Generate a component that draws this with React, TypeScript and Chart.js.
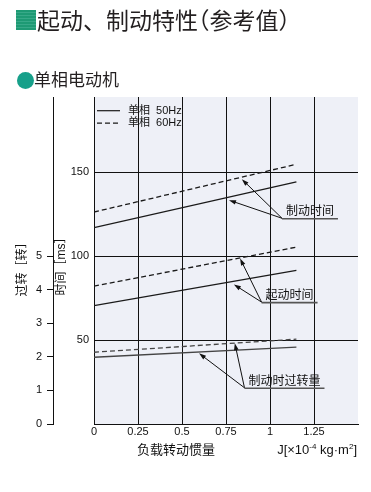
import React, { useEffect, useRef } from 'react';
import { Chart, registerables } from 'chart.js';

Chart.register(...registerables);

// ---------- data ----------
const inertia = [0, 1.15]; // J [x10^-4 kg·m²]
const brakeTime50 = [117.1, 144.4]; // ms
const brakeTime60 = [126.4, 154.9]; // ms
const startTime50 = [70.6, 91.6]; // ms
const startTime60 = [82.2, 105.5]; // ms
const overrun50 = [1.99, 2.29]; // turns
const overrun60 = [2.14, 2.53]; // turns

const xTicks = [0, 0.25, 0.5, 0.75, 1, 1.25];
const timeTicks = [50, 100, 150];
const turnTicks = [0, 1, 2, 3, 4, 5];

const mainTitleParts = ['起动、制动特性', '（', '参考值', '）'];
const subTitle = '单相电动机';
const legendLabels = ['单相  50Hz', '单相  60Hz'];
const timeTitle = '时间［ms］';
const turnTitle = '过转［转］';
const xTitle = '负载转动惯量';
const annotationLabels = ['制动时间', '起动时间', '制动时过转量'];

const FAM = "'Liberation Sans', 'Noto Sans CJK SC', sans-serif";
const CJK = "'Noto Sans CJK SC', sans-serif";
const INK = '#111';
const LINE = '#1a1a1a';
const DASH = [5, 3];

const pts = (ys: number[]) => inertia.map((x, i) => ({ x, y: ys[i] }));

const decorPlugin = {
  id: 'decor',
  beforeDraw(chart: any) {
    const { ctx, chartArea: a } = chart;
    ctx.save();
    ctx.fillStyle = '#eef0f7';
    ctx.fillRect(a.left, a.top, a.right - a.left, a.bottom - a.top);
    ctx.restore();
  },
  afterDraw(chart: any) {
    const { ctx, chartArea: a, scales } = chart;
    const xs = scales.x;
    ctx.save();

    // legend
    const ds = chart.data.datasets;
    [0, 1].forEach((i) => {
      const y = a.top + 13.7 + i * 12.5;
      ctx.strokeStyle = LINE;
      ctx.lineWidth = 1.2;
      ctx.setLineDash(ds[i].borderDash || []);
      ctx.beginPath();
      ctx.moveTo(a.left + 3, y);
      ctx.lineTo(a.left + 26, y);
      ctx.stroke();
      ctx.setLineDash([]);
      ctx.fillStyle = INK;
      ctx.font = `11px ${FAM}`;
      ctx.textAlign = 'left';
      ctx.textBaseline = 'middle';
      ctx.fillText(legendLabels[i], a.left + 34, y);
    });

    // annotations
    const notes = [
      { label: annotationLabels[0], axis: 'y', anchor: [1.068, 122.7], tips: [[0.84, 146.0], [0.767, 133.5]] },
      { label: annotationLabels[1], axis: 'y', anchor: [0.952, 72.7], tips: [[0.83, 98.7], [0.795, 83.2]] },
      { label: annotationLabels[2], axis: 'y2', anchor: [0.855, 1.08], tips: [[0.8, 2.41], [0.597, 2.107]] },
    ];
    notes.forEach((n) => {
      const ys = scales[n.axis];
      const ax = xs.getPixelForValue(n.anchor[0]);
      const ay = ys.getPixelForValue(n.anchor[1]);
      ctx.font = `12px ${CJK}`;
      const w = ctx.measureText(n.label).width;
      ctx.fillStyle = INK;
      ctx.textAlign = 'left';
      ctx.textBaseline = 'middle';
      ctx.fillText(n.label, ax + 4, ay - 7.5);
      ctx.strokeStyle = '#555';
      ctx.lineWidth = 1.6;
      ctx.beginPath();
      ctx.moveTo(ax, ay + 0.5);
      ctx.lineTo(ax + w + 8, ay + 0.5);
      ctx.stroke();
      n.tips.forEach((t) => {
        const tx = xs.getPixelForValue(t[0]);
        const ty = ys.getPixelForValue(t[1]);
        const ang = Math.atan2(ty - ay, tx - ax);
        ctx.strokeStyle = INK;
        ctx.lineWidth = 1;
        ctx.beginPath();
        ctx.moveTo(ax, ay);
        ctx.lineTo(tx - Math.cos(ang) * 4, ty - Math.sin(ang) * 4);
        ctx.stroke();
        const L = 7, H = 2.3;
        ctx.fillStyle = INK;
        ctx.beginPath();
        ctx.moveTo(tx, ty);
        ctx.lineTo(tx - L * Math.cos(ang) + H * Math.sin(ang), ty - L * Math.sin(ang) - H * Math.cos(ang));
        ctx.lineTo(tx - L * Math.cos(ang) - H * Math.sin(ang), ty - L * Math.sin(ang) + H * Math.cos(ang));
        ctx.closePath();
        ctx.fill();
      });
    });

    // bottom titles
    ctx.fillStyle = INK;
    ctx.font = `13px ${CJK}`;
    ctx.textAlign = 'center';
    ctx.textBaseline = 'middle';
    ctx.fillText(xTitle, xs.getPixelForValue(0.466), a.bottom + 25);

    const base = a.bottom + 30;
    const pieces = [
      { t: 'J[×10', s: 13, dy: 0 },
      { t: '-4', s: 8, dy: -5 },
      { t: ' kg·m', s: 13, dy: 0 },
      { t: '2', s: 8, dy: -5 },
      { t: ']', s: 13, dy: 0 },
    ];
    ctx.textAlign = 'left';
    ctx.textBaseline = 'alphabetic';
    let total = 0;
    pieces.forEach((p) => {
      ctx.font = `${p.s}px ${FAM}`;
      total += ctx.measureText(p.t).width;
    });
    let x = a.right - 1 - total;
    pieces.forEach((p) => {
      ctx.font = `${p.s}px ${FAM}`;
      ctx.fillText(p.t, x, base + p.dy);
      x += ctx.measureText(p.t).width;
    });
    ctx.restore();
  },
};

export default function App() {
  const ref = useRef<HTMLCanvasElement>(null);

  useEffect(() => {
    const tickFont = { family: FAM, size: 11 };
    const titleFont = { family: FAM, size: 12 };
    const chart = new Chart(ref.current as HTMLCanvasElement, {
      type: 'line',
      data: {
        datasets: [
          { label: '制动时间 50Hz', data: pts(brakeTime50), yAxisID: 'y', borderColor: LINE, borderWidth: 1.3 },
          { label: '制动时间 60Hz', data: pts(brakeTime60), yAxisID: 'y', borderColor: LINE, borderWidth: 1.3, borderDash: DASH },
          { label: '起动时间 50Hz', data: pts(startTime50), yAxisID: 'y', borderColor: LINE, borderWidth: 1.3 },
          { label: '起动时间 60Hz', data: pts(startTime60), yAxisID: 'y', borderColor: LINE, borderWidth: 1.3, borderDash: DASH },
          { label: '过转量 50Hz', data: pts(overrun50), yAxisID: 'y2', borderColor: '#444', borderWidth: 1.3 },
          { label: '过转量 60Hz', data: pts(overrun60), yAxisID: 'y2', borderColor: '#444', borderWidth: 1.3, borderDash: DASH },
        ],
      },
      options: {
        animation: false,
        responsive: false,
        devicePixelRatio: 1,
        layout: { padding: { left: 12, top: 97, right: 13, bottom: 0 } },
        elements: { point: { radius: 0 }, line: { tension: 0 } },
        plugins: { legend: { display: false }, tooltip: { enabled: false } },
        scales: {
          x: {
            type: 'linear',
            min: 0,
            max: 1.5,
            afterBuildTicks: (s: any) => { s.ticks = xTicks.map((v) => ({ value: v })); },
            afterFit: (s: any) => { s.height = 68; },
            grid: { color: '#111', lineWidth: 1, drawTicks: false },
            border: { display: true, color: '#111', width: 1 },
            ticks: { padding: 1, color: INK, font: tickFont, callback: (v: any) => String(v), maxRotation: 0 },
          },
          y: {
            type: 'linear',
            position: 'left',
            weight: 0,
            min: 0,
            max: 195,
            afterBuildTicks: (s: any) => { s.ticks = timeTicks.map((v) => ({ value: v })); },
            afterFit: (s: any) => { s.width = 41; },
            grid: { color: '#111', lineWidth: 1, drawTicks: false },
            border: { display: true, color: '#111', width: 1 },
            ticks: { padding: 5, color: INK, font: tickFont, callback: (v: any) => String(v) },
            title: { display: true, text: timeTitle + '\u2002', color: INK, font: titleFont, padding: { top: 1, bottom: 0 } },
          },
          y2: {
            type: 'linear',
            position: 'left',
            weight: 1,
            min: 0,
            max: 9.75,
            afterBuildTicks: (s: any) => { s.ticks = turnTicks.map((v) => ({ value: v })); },
            afterFit: (s: any) => { s.width = 41; },
            grid: { drawOnChartArea: false, drawTicks: true, tickLength: 6, color: '#111', lineWidth: 1 },
            border: { display: true, color: '#111', width: 1 },
            ticks: { padding: 5, color: INK, font: tickFont, callback: (v: any) => String(v) },
            title: { display: true, text: turnTitle + '\u3000\u2002', color: INK, font: titleFont, padding: { top: 3, bottom: 0 } },
          },
        },
      } as any,
      plugins: [decorPlugin],
    });
    return () => chart.destroy();
  }, []);

  const halt = { fontFeatureSettings: "'halt'" } as React.CSSProperties;

  return (
    <div style={{ position: 'absolute', left: 0, top: 0, width: 371, height: 492, background: '#fff', overflow: 'hidden' }}>
      <canvas ref={ref} width={371} height={492} style={{ position: 'absolute', left: 0, top: 0, width: 371, height: 492 }} />
      <div
        style={{
          position: 'absolute', left: 16, top: 10, width: 20, height: 20,
          background: 'repeating-linear-gradient(180deg, #1e9a74 0px, #1e9a74 2px, #37a988 2px, #37a988 3px)',
        }}
      />
      <div style={{ position: 'absolute', left: 37, top: 8, fontFamily: CJK, fontSize: 23, lineHeight: '23px', color: '#231f20', whiteSpace: 'nowrap' }}>
        {mainTitleParts[0]}
        <span style={halt}>{mainTitleParts[1]}</span>
        {mainTitleParts[2]}
        <span style={halt}>{mainTitleParts[3]}</span>
      </div>
      <div style={{ position: 'absolute', left: 16.5, top: 71.5, width: 17, height: 17, borderRadius: '50%', background: '#17a08a' }} />
      <div style={{ position: 'absolute', left: 34, top: 70, fontFamily: CJK, fontSize: 17, lineHeight: '17px', color: '#231f20', whiteSpace: 'nowrap' }}>
        {subTitle}
      </div>
    </div>
  );
}
